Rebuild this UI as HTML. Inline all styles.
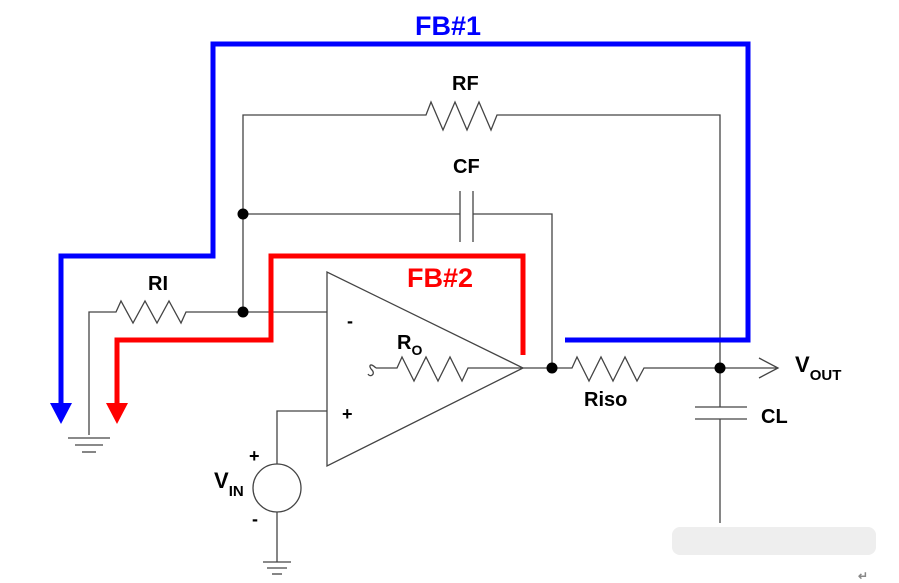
<!DOCTYPE html>
<html><head><meta charset="utf-8"><style>
html,body{margin:0;padding:0;background:#fff;}
svg{display:block;}
text{font-family:"Liberation Sans",Arial,sans-serif;font-weight:bold;}
</style></head><body>
<svg width="899" height="583" viewBox="0 0 899 583" xmlns="http://www.w3.org/2000/svg">
<g stroke="#444" stroke-width="1.3" fill="none">
<polyline points="243,312 243,115 426,115 431,102 443,130 455,102 467,130 479,102 491,130 497,115 720,115 720,368"/>
<polyline points="243,214 460,214"/>
<line x1="460" y1="191" x2="460" y2="242"/>
<line x1="473" y1="191" x2="473" y2="242"/>
<polyline points="473,214 552,214 552,368"/>
<polyline points="89,435 89,312 116,312 121,301 133,323 145,301 157,323 169,301 181,323 186,312 327,312"/>
<line x1="68" y1="438" x2="110" y2="438"/>
<line x1="75" y1="445" x2="103" y2="445"/>
<line x1="82" y1="452" x2="96" y2="452"/>
<polygon points="327,272 327,466 523,368"/>
<path d="M376,368 C370,362 368,366 372,370 C376,374 370,378 368,374"/>
<polyline points="376,368 397,368 402,357 414,381 426,357 438,381 450,357 462,381 468,368 523,368"/>
<polyline points="327,411 277,411 277,464"/>
<circle cx="277" cy="488" r="24"/>
<line x1="277" y1="512" x2="277" y2="562"/>
<line x1="263" y1="562" x2="291" y2="562"/>
<line x1="267" y1="568" x2="287" y2="568"/>
<line x1="272" y1="574" x2="282" y2="574"/>
<polyline points="523,368 572,368 577,357 589,381 601,357 613,381 625,357 637,381 644,368 778,368"/>
<polyline points="759,358 778,368 759,378"/>
<line x1="720" y1="368" x2="720" y2="407"/>
<line x1="695" y1="407" x2="747" y2="407"/>
<line x1="695" y1="419" x2="747" y2="419"/>
<line x1="720" y1="419" x2="720" y2="523"/>
</g>
<g fill="#000">
<circle cx="243" cy="214" r="5.5"/>
<circle cx="243" cy="312" r="5.5"/>
<circle cx="552" cy="368" r="5.5"/>
<circle cx="720" cy="368" r="5.5"/>
</g>
<polyline points="565,340 748,340 748,44 213,44 213,256 61,256 61,408" stroke="#0000ff" stroke-width="5" fill="none"/>
<polygon points="50,403 72,403 61,424" fill="#0000ff"/>
<polyline points="523,355 523,256 271,256 271,340 117,340 117,408" stroke="#ff0000" stroke-width="5" fill="none"/>
<polygon points="106,403 128,403 117,424" fill="#ff0000"/>
<rect x="672" y="527" width="204" height="28" fill="#eeeeee" rx="8"/>
<text x="415" y="35" font-size="27" fill="#0000ff">FB#1</text>
<text x="407" y="287" font-size="27" fill="#ff0000">FB#2</text>
<text x="452" y="90" font-size="20" fill="#000">RF</text>
<text x="453" y="173" font-size="20" fill="#000">CF</text>
<text x="148" y="290" font-size="20" fill="#000">RI</text>
<text x="397" y="349" font-size="20" fill="#000">R<tspan font-size="14" dy="6">O</tspan></text>
<text x="584" y="406" font-size="20" fill="#000">Riso</text>
<text x="761" y="423" font-size="20" fill="#000">CL</text>
<text x="795" y="372" font-size="22" fill="#000">V<tspan font-size="15" dy="8">OUT</tspan></text>
<text x="214" y="488" font-size="22" fill="#000">V<tspan font-size="15" dy="8">IN</tspan></text>
<text x="347" y="327" font-size="18" fill="#000">-</text>
<text x="342" y="420" font-size="18" fill="#000">+</text>
<text x="249" y="462" font-size="18" fill="#000">+</text>
<text x="252" y="525" font-size="18" fill="#000">-</text>
<text x="858" y="580" font-size="12" fill="#888" font-weight="normal">↵</text>
</svg>
</body></html>
